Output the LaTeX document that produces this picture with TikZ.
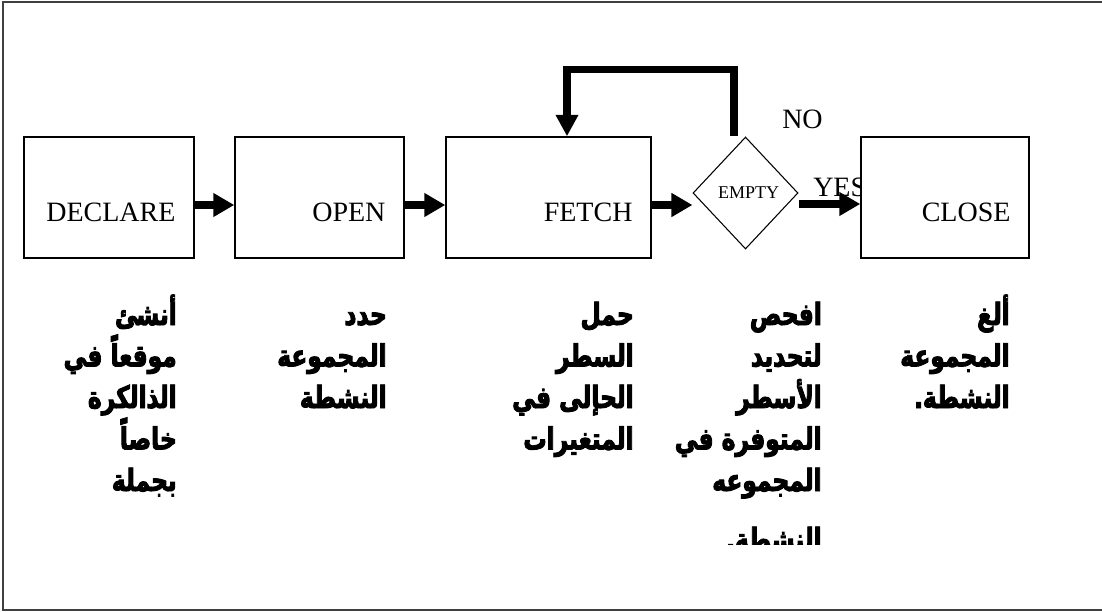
\documentclass[tikz,border=0pt]{standalone}
\usepackage{fontspec}
\setmainfont{Liberation Serif}
\newfontfamily\arabicfont[Script=Arabic,FakeStretch=0.76,FakeBold=3]{DejaVu Sans}
\TeXXeTstate=1
\usetikzlibrary{arrows.meta,shapes.geometric,calc}

\begin{document}
\begin{tikzpicture}[x=0.75pt,y=-0.75pt,
  stepbox/.style={draw, line width=1.1pt, fill=white, minimum height=90.75pt, inner sep=0pt},
  decision/.style={diamond, draw, line width=0.8pt, fill=white, minimum width=78.75pt, minimum height=84pt, inner sep=0pt, font=\fontsize{13.5}{14}\selectfont},
  boxlabel/.style={anchor=base east, inner sep=0pt, font=\fontsize{21}{24}\selectfont},
  flowlabel/.style={anchor=base west, inner sep=0pt, font=\fontsize{21}{24}\selectfont},
  flow/.style={line width=5.8pt, -{Triangle[length=15.75pt,width=17pt]}},
  loopback/.style={line width=5.3pt, line join=miter, -{Triangle[length=16pt,width=16pt]}},
  arab/.style={anchor=base east, inner sep=0pt, font=\arabicfont\bfseries\fontsize{23}{26}\selectfont},
]
\useasboundingbox (0,0) rectangle (1102,611);
\draw[line width=1.5pt, black!75] (3,1.5) rectangle (1110,609.5);

% branch labels
\node[flowlabel] (no)  at (782,128) {NO};
\node[flowlabel] (yes) at (813,196) {YES};

% process steps
\node[stepbox, minimum width=127.5pt]  (declare) at (109,197.5) {};
\node[stepbox, minimum width=126.75pt] (open)    at (319.5,197.5) {};
\node[stepbox, minimum width=153.75pt] (fetch)   at (548.5,197.5) {};
\node[stepbox, minimum width=126pt]    (close)   at (945,197.5) {};
\node[decision] (empty) at (745.5,193) {\hspace{4.5pt}EMPTY};

\node[boxlabel] (declaret) at ($(declare.east)+(-19,23.5)$) {DECLARE};
\node[boxlabel] (opent)    at ($(open.east)+(-19,23.5)$) {OPEN};
\node[boxlabel] (fetcht)   at ($(fetch.east)+(-19,23.5)$) {FETCH};
\node[boxlabel] (closet)   at ($(close.east)+(-19,23.5)$) {CLOSE};

% connectors
\draw[flow] ($(declare.east)+(0,7.5)$) -- ($(open.west)+(0,7.5)$);
\draw[flow] ($(open.east)+(0,7.5)$) -- ($(fetch.west)+(0,7.5)$);
\coordinate (fetchout) at ($(fetch.east)+(0,7.5)$);
\draw[flow] (fetchout) -- (fetchout -| empty.west);
\coordinate (yesstart) at ($(empty.east)+(0,11)$);
\draw[flow] (yesstart) -- (yesstart -| close.west);
\coordinate (loopstart) at ($(empty.north)+(-11.5,0)$);
\coordinate (fetchin) at ($(fetch.north)+(18.5,0)$);
\draw[loopback] (loopstart) -- ++(0,-67) -| (fetchin);

% descriptions under each step
\foreach \t [count=\i] in {أنشئ, موقعاً في, الذالكرة, خاصاً, بجملة}
  \node[arab] (d1-\i) at (177,{325+41.5*(\i-1)}) {\beginR\t\endR};
\foreach \t [count=\i] in {حدد, المجموعة, النشطة}
  \node[arab] (d2-\i) at (387,{325+41.5*(\i-1)}) {\beginR\t\endR};
\foreach \t [count=\i] in {حمل, السطر, الحإلى في, المتغيرات}
  \node[arab] (d3-\i) at (634,{325+41.5*(\i-1)}) {\beginR\t\endR};
\begin{scope}
  \clip (640,280) rectangle (840,544);
  \foreach \t [count=\i] in {افحص, لتحديد, الأسطر, المتوفرة في, المجموعه}
    \node[arab] (d4-\i) at (822,{325+41.5*(\i-1)}) {\beginR\t\endR};
  \node[arab] (d4-6) at (822,550) {\beginR النشطة.\endR};
\end{scope}
\foreach \t [count=\i] in {ألغ, المجموعة, النشطة.}
  \node[arab] (d5-\i) at (1010,{325+41.5*(\i-1)}) {\beginR\t\endR};
\end{tikzpicture}
\end{document}
